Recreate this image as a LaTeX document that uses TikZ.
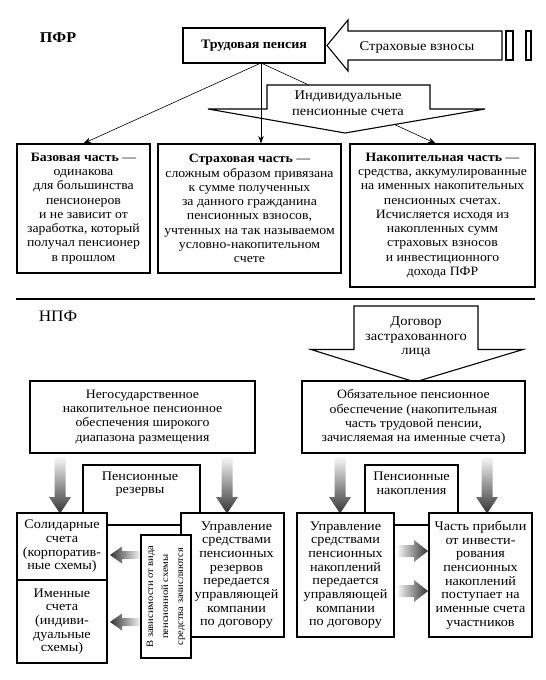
\documentclass[tikz,border=0pt]{standalone}
\usepackage{fontspec}
\setmainfont[FakeStretch=1.08]{Liberation Serif}
\usetikzlibrary{arrows.meta}
\newcommand\txa{\fontsize{12.8}{14.3}\selectfont}
\newcommand\txb{\fontsize{13.2}{13.7}\selectfont}
\begin{document}
\begin{tikzpicture}[x=1bp,y=-1bp,
  box/.style={draw, line width=1.2bp, fill=white, align=center, inner sep=0pt},
  lbl/.style={align=center, inner sep=0pt},
  thin/.style={line width=0.6bp, -{Stealth[length=7.5bp,width=5.5bp]}},
  outl/.style={draw, line width=1.1bp, fill=white, line join=miter},
  dsh/.style={top color=black!3, bottom color=black!80},
  lsh/.style={left color=black!80, right color=black!5},
  rsh/.style={left color=black!5, right color=black!80}]
\useasboundingbox (0,0) rectangle (546,680);
\fill[white] (0,0) rectangle (546,680);

% ---------- PFR ----------
\node[lbl, font=\bfseries\fontsize{15}{17}\selectfont] (pfr) at (58,38) {ПФР};

\draw[outl] (327,45.5) -- (348,20) -- (348,31) -- (502,31) -- (502,60) -- (348,60) -- (348,71) -- cycle;
\node[lbl, font=\fontsize{13.5}{16}\selectfont] (vzn) at (417,47) {Страховые взносы};
\draw[line width=1.1bp] (506,31) rectangle (513,60);
\draw[line width=1.1bp] (526,31) rectangle (531,60);

\node[box, font=\bfseries\fontsize{13}{15}\selectfont, minimum width=142bp, minimum height=35bp] (trud) at (254,45.5) {Трудовая пенсия};

\node[box, font=\txa, minimum width=133bp, minimum height=129bp] (base) at (83.5,208.5)
  {\textbf{Базовая часть} —\\одинакова\\для большинства\\пенсионеров\\и не зависит от\\заработка, который\\получал пенсионер\\в прошлом};
\node[box, font=\txa, minimum width=183bp, minimum height=129bp] (strah) at (249.5,208.5)
  {\textbf{Страховая часть} —\\сложным образом привязана\\к сумме полученных\\за данного гражданина\\пенсионных взносов,\\учтенных на так называемом\\условно-накопительном\\счете};
\node[box, font=\txa, minimum width=185bp, minimum height=143bp] (nak) at (442.5,215.5)
  {\textbf{Накопительная часть} —\\средства, аккумулированные\\на именных накопительных\\пенсионных счетах.\\Исчисляется исходя из\\накопленных сумм\\страховых взносов\\и инвестиционного\\дохода ПФР};

\coordinate (tp) at (261,63);
\draw[thin] (tp) -- (base.north);
\draw[thin] (tp) -- ([xshift=-7bp]nak.north);

\draw[outl] (267,85) -- (430,85) -- (430,109) -- (485,109) -- (345,133) -- (208,109) -- (267,109) -- cycle;
\node[lbl, font=\fontsize{13.5}{15.5}\selectfont] (ind) at (348,103) {Индивидуальные\\пенсионные счета};
\draw[thin] (tp) -- (tp |- strah.north);

% ---------- separator ----------
\draw[line width=1.6bp] (16,299) -- (535,299);

% ---------- NPF ----------
\node[lbl, font=\fontsize{16}{18}\selectfont] (npf) at (58,316) {НПФ};

\draw[outl] (354,306) -- (478,306) -- (478,349.5) -- (523,349.5) -- (415,382) -- (311,349.5) -- (354,349.5) -- cycle;
\node[lbl, font=\fontsize{13.5}{14.7}\selectfont] (dog) at (416,337) {Договор\\застрахованного\\лица};

\node[box, font=\txa, minimum width=225bp, minimum height=72bp] (neg) at (142.5,417)
  {Негосударственное\\накопительное пенсионное\\обеспечения широкого\\диапазона размещения};
\node[box, font=\txa, minimum width=223bp, minimum height=72bp] (obz) at (413.5,417)
  {Обязательное пенсионное\\обеспечение (накопительная\\часть трудовой пенсии,\\зачисляемая на именные счета)};

% reserve / accumulation frames
\draw[line width=1.2bp] (83,465) rectangle (200,525);
\node[lbl, font=\txb] (rez) at (140,484) {Пенсионные\\резервы};
\draw[line width=1.2bp] (365,465) rectangle (458,525);
\node[lbl, font=\txb] (nakop) at (411.5,483) {Пенсионные\\накопления};

% shaded down arrows
\foreach \xx in {60,227,340,487}{
  \shade[dsh] (\xx-5.5,457) -- (\xx+5.5,457) -- (\xx+5.5,497) -- (\xx+11,497) -- (\xx,513.5) -- (\xx-11,497) -- (\xx-5.5,497) -- cycle;
}

\node[box, font=\txb, minimum width=90bp, minimum height=67bp] (sol) at (62,546.5)
  {Солидарные\\счета\\(корпоратив-\\ные схемы)};
\node[box, font=\txb, minimum width=90bp, minimum height=83bp] (imen) at (62,621.5)
  {Именные\\счета\\(индиви-\\дуальные\\схемы)};
\node[box, font=\txb, minimum width=103bp, minimum height=124bp] (uprl) at (232.5,575)
  {\hspace*{8bp}Управление\\\hspace*{8bp}средствами\\\hspace*{8bp}пенсионных\\\hspace*{8bp}резервов\\\hspace*{8bp}передается\\\hspace*{8bp}управляющей\\\hspace*{8bp}компании\\\hspace*{8bp}по договору};
\node[box, font=\fontsize{9.8}{15}\selectfont, rotate=90, minimum width=123bp, minimum height=50bp] (vid) at (166,596.5)
  {В зависимости от вида\\пенсионной схемы\\средства зачисляются};

\node[box, font=\txb, minimum width=97bp, minimum height=124bp] (uprr) at (345.5,575)
  {Управление\\средствами\\пенсионных\\накоплений\\передается\\управляющей\\компании\\по договору};
\node[box, font=\txb, minimum width=103bp, minimum height=124bp] (chast) at (480.5,575)
  {Часть прибыли\\от инвести-\\рования\\пенсионных\\накоплений\\поступает на\\именные счета\\участников};

% shaded left arrows
\foreach \yy in {555,622}{
  \shade[lsh] (110,\yy) -- (122,\yy-8.5) -- (122,\yy-4) -- (140,\yy-4) -- (140,\yy+4) -- (122,\yy+4) -- (122,\yy+8.5) -- cycle;
}
% shaded right arrows
\foreach \yy in {551,591}{
  \shade[rsh] (398,\yy-6) -- (414,\yy-6) -- (414,\yy-11) -- (428,\yy) -- (414,\yy+11) -- (414,\yy+6) -- (398,\yy+6) -- cycle;
}
\end{tikzpicture}
\end{document}
